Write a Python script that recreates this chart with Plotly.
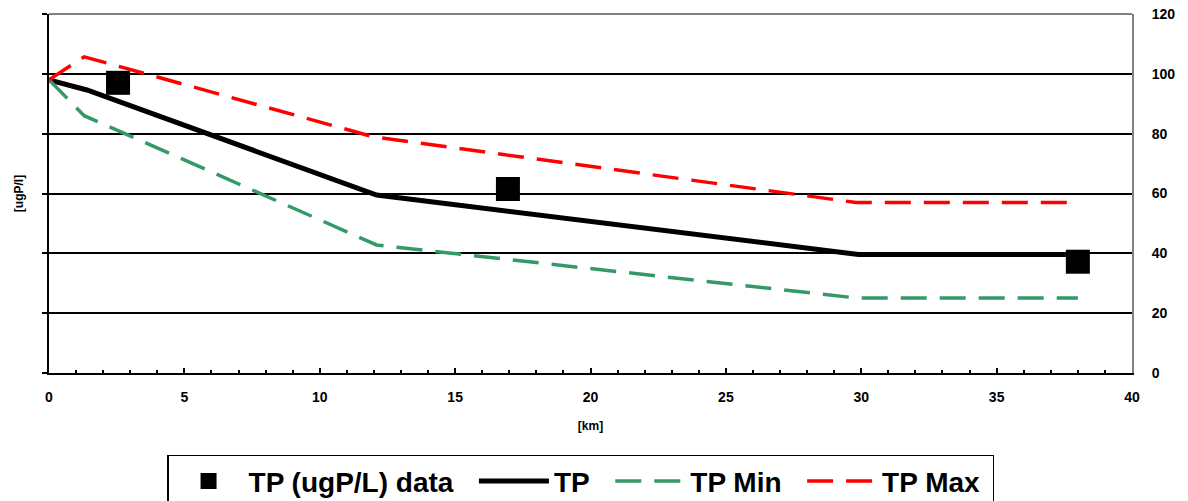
import plotly.graph_objects as go

# data
data_km = [2.55, 16.95, 38.0]
data_tp = [97.0, 61.5, 37.2]

tp_km = [0.0, 1.4, 12.1, 29.9, 38.0]
tp_val = [98.0, 94.6, 59.5, 39.6, 39.6]

min_km = [0.0, 1.3, 12.1, 29.8, 38.0]
min_val = [98.0, 86.0, 42.8, 25.1, 25.1]

max_km = [0.0, 1.3, 12.0, 29.8, 38.0]
max_val = [98.0, 105.7, 78.9, 57.0, 57.0]

x_ticks = [0, 5, 10, 15, 20, 25, 30, 35, 40]
y_ticks = [0, 20, 40, 60, 80, 100, 120]

FONT = "Liberation Sans, Arial, sans-serif"
PAD = "\u00a0\u00a0"  # spacing after legend entries

fig = go.Figure()
fig.add_trace(go.Scatter(x=data_km, y=data_tp, mode="markers", name="TP (ugP/L) data" + PAD,
                         marker=dict(symbol="square", size=24, color="black")))
fig.add_trace(go.Scatter(x=tp_km, y=tp_val, mode="lines", name="TP" + PAD,
                         line=dict(color="black", width=5)))
fig.add_trace(go.Scatter(x=min_km, y=min_val, mode="lines", name="TP Min" + PAD,
                         line=dict(color="#339966", width=3.5, dash="26px,13px")))
fig.add_trace(go.Scatter(x=max_km, y=max_val, mode="lines", name="TP Max\u00a0",
                         line=dict(color="#FF0000", width=3.5, dash="26px,13px")))
# invisible helper so the right-hand value axis is drawn
fig.add_trace(go.Scatter(x=data_km, y=data_tp, mode="markers", yaxis="y2", showlegend=False,
                         marker=dict(opacity=0), hoverinfo="skip"))

fig.update_layout(
    width=1188, height=501,
    margin=dict(l=49, r=56, t=14, b=128, autoexpand=False),
    paper_bgcolor="white", plot_bgcolor="white",
    font=dict(family=FONT, color="black"),
    xaxis=dict(range=[0, 40], tickvals=x_ticks, ticks="inside", ticklen=5, tickwidth=1.5,
               tickcolor="black",
               minor=dict(ticks="inside", ticklen=3, dtick=1, tickcolor="black", tickwidth=1.5, showgrid=False),
               showline=True, linecolor="black", linewidth=2, showgrid=False, zeroline=False,
               tickfont=dict(size=14, weight="bold"), ticklabelstandoff=10,
               title=dict(text="[km]", font=dict(size=12, weight="bold"), standoff=18)),
    yaxis=dict(range=[0, 120], tickvals=y_ticks, ticks="outside", ticklen=5, tickwidth=1.5,
               tickcolor="black", showticklabels=False,
               showline=True, linecolor="black", linewidth=2,
               showgrid=True, gridcolor="black", gridwidth=1.5, zeroline=False,
               title=dict(text="[ugP/l]", font=dict(size=12, weight="bold"), standoff=16)),
    yaxis2=dict(range=[0, 120], tickvals=y_ticks, overlaying="y", side="right", anchor="x",
                showline=True, linecolor="#808080", linewidth=2, showgrid=False, zeroline=False,
                ticks="", ticklabelstandoff=15, tickfont=dict(size=14, weight="bold")),
    legend=dict(orientation="h", x=0.109, xanchor="left", y=-0.228, yanchor="top",
                bordercolor="black", borderwidth=1.5, bgcolor="white", itemwidth=70,
                font=dict(size=28, weight="bold")),
    shapes=[dict(type="line", xref="paper", yref="paper", x0=0, x1=1, y0=1, y1=1,
                 line=dict(color="#808080", width=2))],
    showlegend=True,
)

fig.write_html("out.html")
